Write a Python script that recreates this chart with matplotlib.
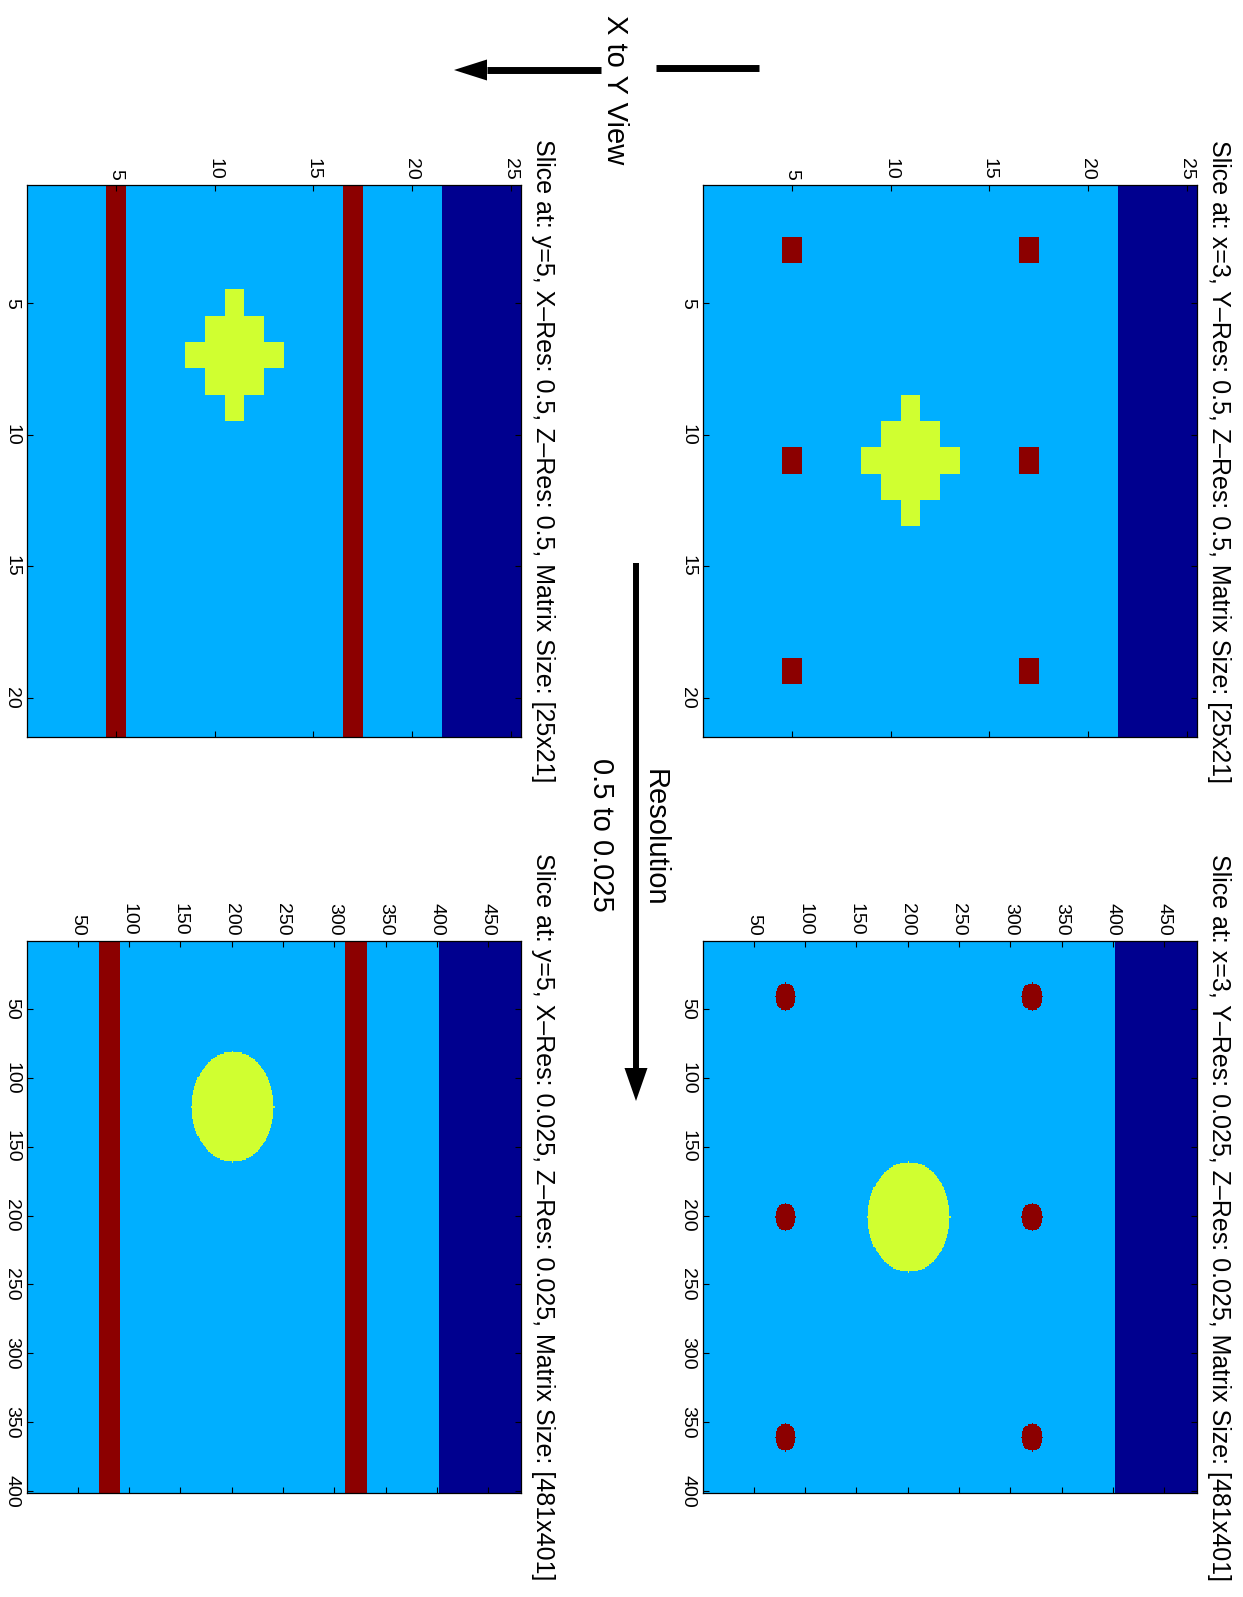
import numpy as np
import matplotlib.pyplot as plt
from matplotlib.colors import ListedColormap

# phantom geometry in mm
fov_x = 10.0
fov_y = 10.0
fov_z = 12.0
slab_z = 10.0                # dark layer above this height
rod_z = [2.0, 8.0]           # rods run along x
rod_y = [1.0, 5.0, 9.0]
rod_r = 0.25
sphere_c = [3.0, 5.0, 5.0]   # x, y, z
sphere_r = 1.0

resolutions = [0.5, 0.025]
slices = [("x", 3.0), ("y", 5.0)]

# slab, background, sphere, rods
mat_colors = ["#00008f", "#00afff", "#d0ff30", "#8c0000"]

ticks_z = {0.5: [5, 10, 15, 20, 25], 0.025: [50, 100, 150, 200, 250, 300, 350, 400, 450]}
ticks_v = {0.5: [5, 10, 15, 20], 0.025: [50, 100, 150, 200, 250, 300, 350, 400]}

plt.rcParams["font.family"] = ["Liberation Sans", "DejaVu Sans"]

W, H = 1243, 1597


def phantom_slice(axis, pos, res):
    fov_v = fov_x if axis == "y" else fov_y
    v = np.arange(round(fov_v / res) + 1) * res
    z = np.arange(round(fov_z / res) + 1) * res
    V, Z = np.meshgrid(v, z, indexing="ij")
    if axis == "x":
        X, Y = np.full_like(V, pos), V
    else:
        X, Y = V, np.full_like(V, pos)
    img = np.ones(V.shape, dtype=int)
    img[Z > slab_z + 1e-9] = 0
    d2 = (X - sphere_c[0]) ** 2 + (Y - sphere_c[1]) ** 2 + (Z - sphere_c[2]) ** 2
    img[d2 <= sphere_r ** 2 + 1e-9] = 2
    for zr in rod_z:
        for yr in rod_y:
            img[(Y - yr) ** 2 + (Z - zr) ** 2 <= rod_r ** 2 + 1e-9] = 3
    return img


fig = plt.figure(figsize=(W / 100, H / 100), dpi=100)
cmap = ListedColormap(mat_colors)

# panel boxes in pixels: (left, top) ; rows of the landscape figure become columns here
panel_w, panel_h = 493.5, 552
lefts = {"x": 703, "y": 27}
tops = {0.5: 185, 0.025: 941}

for axis, pos in slices:
    for res in resolutions:
        img = phantom_slice(axis, pos, res)
        nv, nz = img.shape
        l, t = lefts[axis], tops[res]
        ax = fig.add_axes([l / W, 1 - (t + panel_h) / H, panel_w / W, panel_h / H])
        ax.imshow(img, cmap=cmap, vmin=-0.5, vmax=3.5, aspect="auto",
                  interpolation="nearest", extent=[0.5, nz + 0.5, nv + 0.5, 0.5])
        ax.xaxis.tick_top()
        ax.set_xticks(ticks_z[res], [str(k) for k in ticks_z[res]], rotation=-90)
        ax.set_yticks(ticks_v[res], [str(k) for k in ticks_v[res]], rotation=-90, va="center")
        ax.tick_params(direction="in", top=True, bottom=True, left=True, right=True,
                       labeltop=True, labelbottom=False, labelleft=True, labelright=False,
                       length=4.5, width=0.8, labelsize=14)
        ax.tick_params(axis="x", pad=4)
        ax.tick_params(axis="y", pad=5)
        for s in ax.spines.values():
            s.set_linewidth(0.9)
        other = "Y" if axis == "x" else "X"
        title = (f"Slice at: {axis}={pos:g}, {other}\u2013Res: {res:g}, Z\u2013Res: {res:g}, "
                 f"Matrix Size: [{nz}x{nv}]")
        fig.text((l + panel_w + 10) / W, 1 - (t + panel_h / 2) / H, title,
                 rotation=-90, ha="left", va="center", fontsize=18)

# annotation layer in pixel coordinates
ov = fig.add_axes([0, 0, 1, 1])
ov.set_xlim(0, W)
ov.set_ylim(H, 0)
ov.axis("off")

# X to Y view arrow
ov.plot([656, 759], [68, 68], color="black", lw=5, solid_capstyle="butt")
ov.plot([487, 601], [70, 70], color="black", lw=5, solid_capstyle="butt")
ov.fill([487, 487, 454], [59.5, 80.5, 70], color="black", lw=0)
ov.text(615, 90, "X to Y View", rotation=-90, ha="center", va="center", fontsize=21)

# resolution arrow
ov.plot([636, 636], [563, 1069], color="black", lw=4.3, solid_capstyle="butt")
ov.fill([624.5, 647.5, 636], [1068, 1068, 1101], color="black", lw=0)
ov.text(655, 838, "Resolution", rotation=-90, ha="center", va="center", fontsize=21)
ov.text(601, 835, "0.5 to 0.025", rotation=-90, ha="center", va="center", fontsize=21)

fig.savefig("out.png", dpi=100)
